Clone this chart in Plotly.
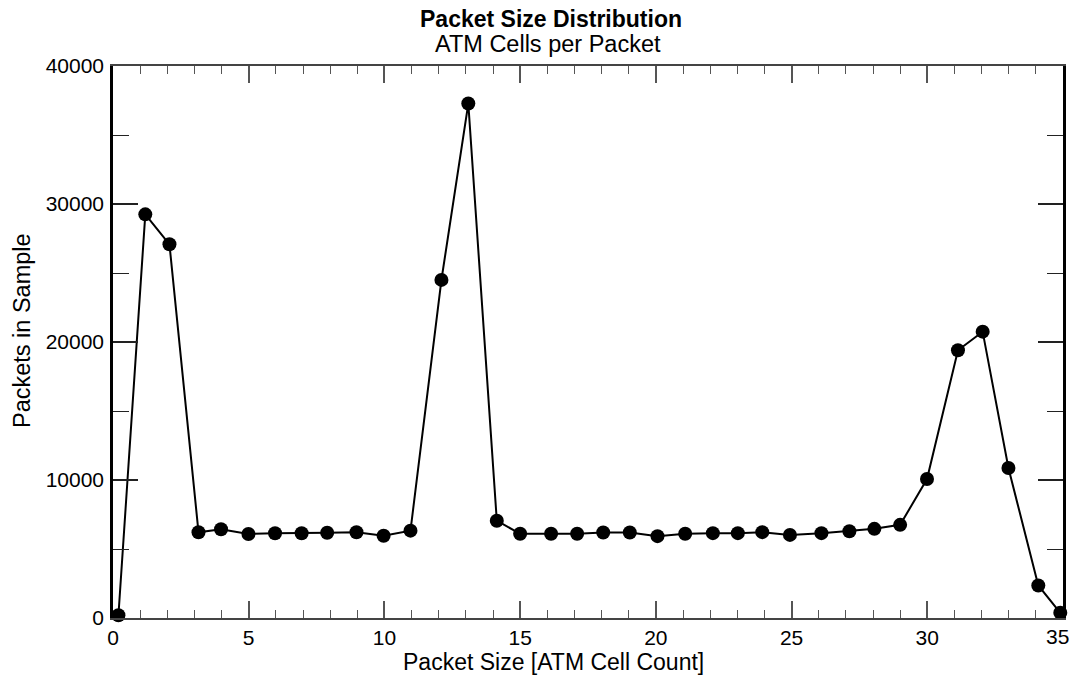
import plotly.graph_objects as go

# Data
packet_size = [0.2, 1.19, 2.08, 3.15, 3.98, 4.99, 5.97, 6.95, 7.89, 8.97, 9.97, 10.96,
               12.1, 13.09, 14.14, 15.0, 16.14, 17.1, 18.06, 19.04, 20.06, 21.08, 22.1,
               23.02, 23.92, 24.94, 26.1, 27.13, 28.05, 29.0, 29.99, 31.13, 32.04, 32.99,
               34.09, 34.9]
packets = [200, 29250, 27080, 6210, 6430, 6090, 6140, 6140, 6180, 6210, 5960, 6330,
           24500, 37280, 7050, 6100, 6100, 6100, 6200, 6200, 5930, 6100, 6150,
           6150, 6220, 6020, 6150, 6290, 6460, 6750, 10070, 19400, 20750, 10870,
           2360, 380]

x_ticks = [0, 5, 10, 15, 20, 25, 30, 35]
y_ticks = [0, 10000, 20000, 30000, 40000]

title = "Packet Size Distribution"
subtitle = "ATM Cells per Packet"
x_title = "Packet Size [ATM Cell Count]"
y_title = "Packets in Sample"

FONT = "Liberation Sans, Arial, sans-serif"

W, H = 1073, 681
L, R, T, B = 113, 10, 66, 63
pw, ph = W - L - R, H - T - B

def px_to_paper_x(px):
    return (px - L) / pw

def px_to_paper_y(py):
    return (H - B - py) / ph

fig = go.Figure()
fig.add_trace(go.Scatter(
    x=packet_size, y=packets, mode="lines+markers",
    line=dict(color="black", width=2),
    marker=dict(color="black", size=14, symbol="circle"),
    cliponaxis=False, showlegend=False,
))

fig.update_layout(
    width=W, height=H,
    margin=dict(l=L, r=R, t=T, b=B, autoexpand=False),
    paper_bgcolor="white", plot_bgcolor="white",
    font=dict(family=FONT, color="black"),
    showlegend=False,
)

# last x tick label is drawn as an annotation so it stays inside the page
x_ticktext = [str(v) for v in x_ticks[:-1]] + [""]

fig.update_xaxes(
    range=[0, 35], tickvals=x_ticks, ticktext=x_ticktext,
    ticks="inside", ticklen=17, tickwidth=1.5, tickcolor="#555",
    minor=dict(dtick=1, ticks="inside", ticklen=8, tickwidth=1.2, tickcolor="#555"),
    showline=True, linecolor="#444", linewidth=2, mirror="ticks",
    showgrid=False, zeroline=False,
    tickfont=dict(family=FONT, size=21, color="black"),
    ticklabelstandoff=0,
)
fig.update_yaxes(
    range=[0, 40000], tickvals=y_ticks, ticktext=[str(v) for v in y_ticks],
    ticks="inside", ticklen=25, tickwidth=1.5, tickcolor="#222",
    minor=dict(dtick=5000, ticks="inside", ticklen=16, tickwidth=1.2, tickcolor="#222"),
    showline=True, linecolor="black", linewidth=2.5, mirror="ticks",
    showgrid=False, zeroline=False,
    tickfont=dict(family=FONT, size=21, color="black"),
    ticklabelstandoff=2,
)

annotations = [
    dict(text="<b>" + title + "</b>", x=px_to_paper_x(551), y=px_to_paper_y(19),
         font=dict(family=FONT, size=23, color="black")),
    dict(text=subtitle, x=px_to_paper_x(548), y=px_to_paper_y(44),
         font=dict(family=FONT, size=23.5, color="black")),
    dict(text=x_title, x=px_to_paper_x(553), y=px_to_paper_y(662),
         font=dict(family=FONT, size=23, color="black")),
    dict(text=y_title, x=px_to_paper_x(22), y=px_to_paper_y(331), textangle=-90,
         font=dict(family=FONT, size=23.5, color="black")),
]
for a in annotations:
    a.update(xref="paper", yref="paper", showarrow=False,
             xanchor="center", yanchor="middle")

annotations.append(dict(
    text=str(x_ticks[-1]), xref="x", x=x_ticks[-1], xanchor="right", xshift=8,
    yref="paper", y=px_to_paper_y(636), yanchor="middle", showarrow=False,
    font=dict(family=FONT, size=21, color="black"),
))
fig.update_layout(annotations=annotations)

fig.write_html(
    "out.html",
    config={"displayModeBar": False},
    post_script="document.body.style.margin='0';document.body.style.overflow='hidden';",
)
